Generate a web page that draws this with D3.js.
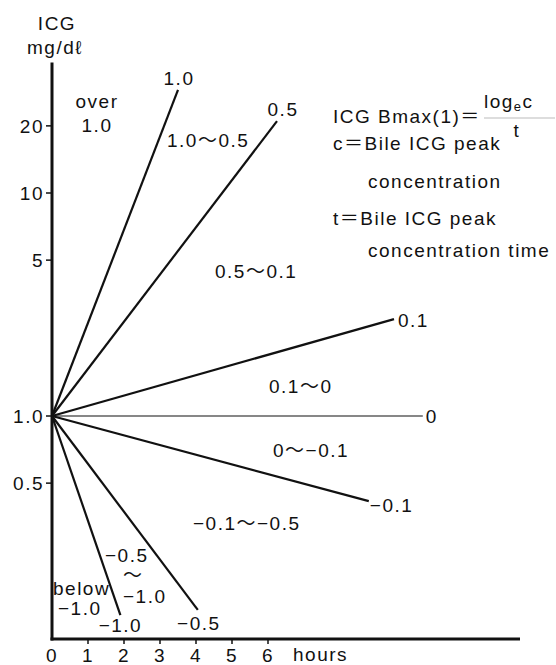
<!DOCTYPE html>
<html>
<head>
<meta charset="utf-8">
<script src="https://cdn.jsdelivr.net/npm/d3@7"></script>
<style>
  html, body { margin: 0; padding: 0; background: #fff; }
  svg text { font-family: "Liberation Sans", Arial, "Noto Sans CJK JP", sans-serif; font-size: 19px; fill: #111; letter-spacing: 1.5px; }
</style>
</head>
<body>
<svg id="chart" width="556" height="665"></svg>
<script>
// ---- data ----
const rateLabels = ["1.0", "0.5", "0.1", "0", "−0.1", "−0.5", "−1.0"];
const endHours   = [3.5, 6.25, 9.5, 10.3, 8.8, 4.05, 1.9];
const endValues  = [29, 21, 2.72, 1, 0.415, 0.135, 0.128];
const originHour = 0, originValue = 1;
const yTickValues = [20, 10, 5, 1, 0.5];
const yTickLabels = ["20", "10", "5", "1.0", "0.5"];
const xTickValues = [0, 1, 2, 3, 4, 5, 6];
const regionLabels = [
  ["over", "1.0"], ["1.0〜0.5"], ["0.5〜0.1"], ["0.1〜0"], ["0〜−0.1"],
  ["−0.1〜−0.5"], ["−0.5", "〜", "−1.0"], ["below", "−1.0"]
];

// ---- layout ----
const svg = d3.select("#chart");
const x = d3.scaleLinear().domain([0, 13]).range([52, 520]);
const y = d3.scaleLog().domain([0.1, 10]).range([639, 193]);
const yTop = 38.5;

// region label positions (pixel anchor, start x, baselines)
const regionPos = [
  {x: 97, y: [108, 132], anchor: "middle"},
  {x: 167, y: [147], anchor: "start"},
  {x: 215, y: [278], anchor: "start"},
  {x: 269, y: [393], anchor: "start"},
  {x: 273, y: [457], anchor: "start"},
  {x: 193, y: [530], anchor: "start"},
  {x: [105, 123, 123], y: [562, 582, 603], anchor: "start"},
  {x: [53, 58], y: [595, 615], anchor: "start"}
];

// axes lines
svg.append("line").attr("x1", x(0)).attr("x2", x(0))
  .attr("y1", y(yTop)).attr("y2", y(0.1) + 1.5)
  .attr("stroke", "#111").attr("stroke-width", 3);
svg.append("line").attr("x1", x(0) - 1.5).attr("x2", x(13))
  .attr("y1", y(0.1)).attr("y2", y(0.1))
  .attr("stroke", "#111").attr("stroke-width", 3);

// y ticks
const yt = svg.append("g");
yTickValues.forEach((v, i) => {
  yt.append("line").attr("x1", x(0) - 6).attr("x2", x(0))
    .attr("y1", y(v)).attr("y2", y(v)).attr("stroke", "#111").attr("stroke-width", 1.5);
  yt.append("text").attr("x", x(0) - 8).attr("y", y(v)).attr("dy", "0.36em")
    .attr("text-anchor", "end").text(yTickLabels[i]);
});
// x ticks
const xt = svg.append("g");
xTickValues.forEach(v => {
  if (v > 0) xt.append("line").attr("x1", x(v)).attr("x2", x(v))
    .attr("y1", y(0.1)).attr("y2", y(0.1) + 5).attr("stroke", "#111").attr("stroke-width", 1.5);
  xt.append("text").attr("x", x(v)).attr("y", 662).attr("text-anchor", "middle").text(v);
});
svg.append("text").attr("x", 293).attr("y", 661).text("hours");

// axis title
svg.append("text").attr("x", 57).attr("y", 30).attr("text-anchor", "middle").text("ICG");
svg.append("text").attr("x", 55).attr("y", 54).attr("text-anchor", "middle").text("mg/dℓ");

// rate lines
const labelOffsets = [
  {dx: 1, dy: -5, anchor: "middle"},
  {dx: 6, dy: -5, anchor: "middle"},
  {dx: 4, dy: 8, anchor: "start"},
  {dx: 3, dy: 7, anchor: "start"},
  {dx: 1, dy: 11, anchor: "start"},
  {dx: 1, dy: 20, anchor: "middle"},
  {dx: 0, dy: 17, anchor: "middle"}
];
rateLabels.forEach((lab, i) => {
  const isZero = lab === "0";
  svg.append("line")
    .attr("x1", x(originHour)).attr("y1", y(originValue))
    .attr("x2", x(endHours[i])).attr("y2", y(endValues[i]))
    .attr("stroke", "#111").attr("stroke-width", isZero ? 1.2 : 2.2);
  const o = labelOffsets[i];
  svg.append("text")
    .attr("x", x(endHours[i]) + o.dx).attr("y", y(endValues[i]) + o.dy)
    .attr("text-anchor", o.anchor).text(lab);
});

// region labels
regionLabels.forEach((lines, i) => {
  const p = regionPos[i];
  lines.forEach((t, j) => {
    svg.append("text")
      .attr("x", Array.isArray(p.x) ? p.x[j] : p.x)
      .attr("y", p.y[j])
      .attr("text-anchor", p.anchor).text(t);
  });
});

// formula legend
svg.append("text").attr("x", 333).attr("y", 123).text("ICG Bmax(1)＝");
const num = svg.append("text").attr("x", 484).attr("y", 108);
num.append("tspan").text("log");
num.append("tspan").attr("font-size", 13).attr("dy", 3).text("e");
num.append("tspan").attr("dy", -3).text("c");
svg.append("line").attr("x1", 484).attr("x2", 555).attr("y1", 118).attr("y2", 118)
  .attr("stroke", "#bbb").attr("stroke-width", 1);
svg.append("text").attr("x", 517).attr("y", 137).attr("text-anchor", "middle").text("t");
svg.append("text").attr("x", 333).attr("y", 150).text("c＝Bile ICG peak");
svg.append("text").attr("x", 368).attr("y", 188).text("concentration");
svg.append("text").attr("x", 333).attr("y", 225).text("t＝Bile ICG peak");
svg.append("text").attr("x", 368).attr("y", 257).text("concentration time");
</script>
</body>
</html>
